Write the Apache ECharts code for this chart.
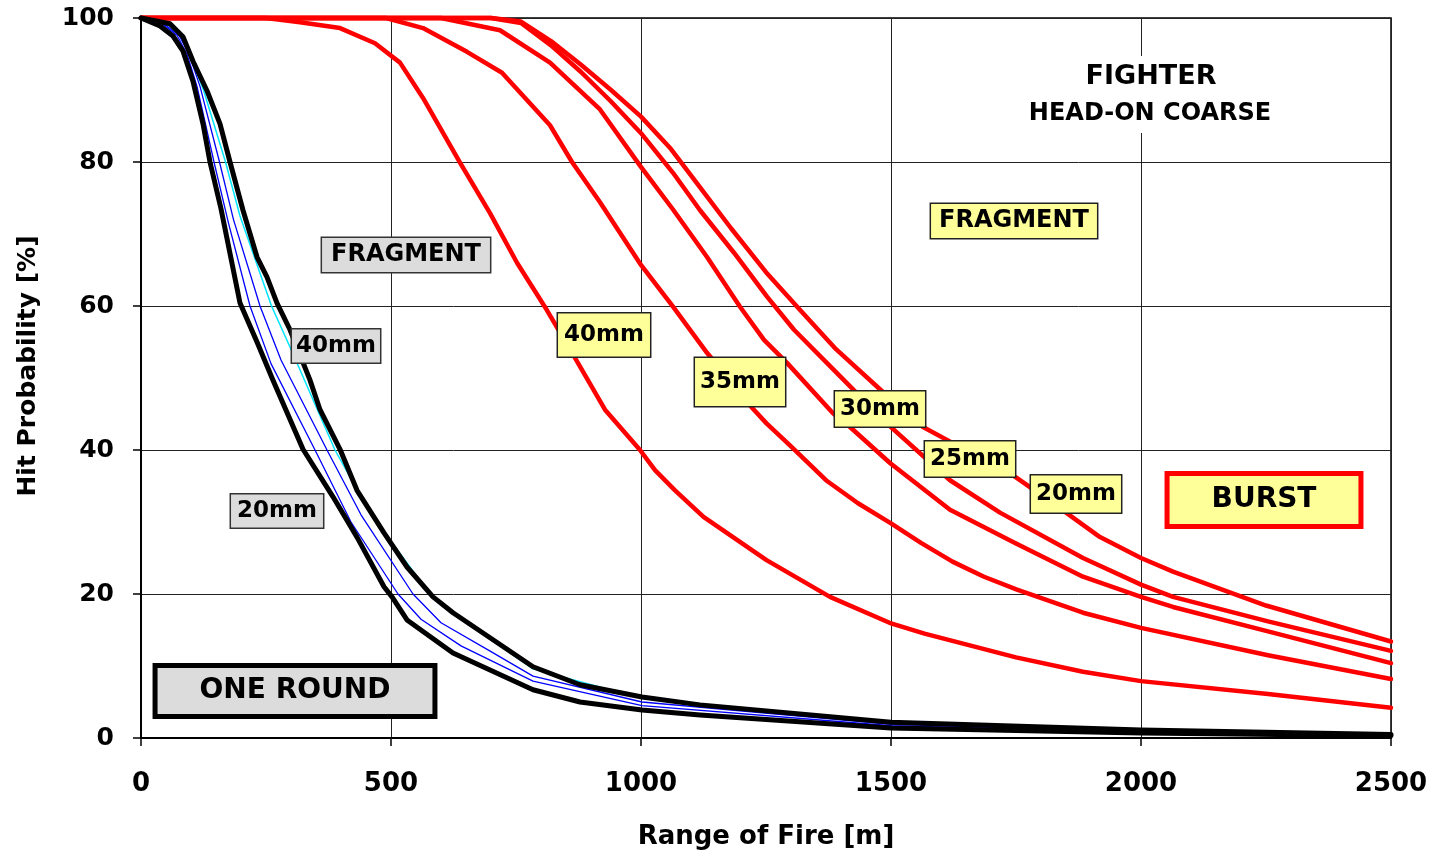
<!DOCTYPE html>
<html>
<head>
<meta charset="utf-8">
<script src="https://cdn.jsdelivr.net/npm/echarts@6/dist/echarts.min.js"></script>
<style>
    html, body { margin: 0; padding: 0; background: #fff; }
    #main { width: 1432px; height: 856px; }
</style>
</head>
<body>
<div id="main"></div>
<script>
// range of fire [m] / hit probability [%]
const xTicks = [0, 500, 1000, 1500, 2000, 2500];
const yTicks = [0, 20, 40, 60, 80, 100];

// burst (red)
const burst20 = [[0, 100], [700, 100], [760, 99.5], [820, 96.8], [880, 93.5], [940, 90], [1000, 86.3], [1060, 81.8], [1120, 76.3], [1180, 70.8], [1250, 64.7], [1320, 59.3], [1390, 54], [1480, 48.3], [1564, 43.2], [1660, 39.6], [1750, 36.2], [1830, 32.3], [1918, 27.9], [2000, 25], [2064, 23.1], [2250, 18.4], [2500, 13.4]];
const burst25 = [[0, 100], [700, 100], [760, 99.3], [820, 96.2], [880, 92.5], [940, 88.4], [1000, 84], [1064, 78.5], [1118, 73.3], [1186, 67.4], [1252, 61.3], [1306, 56.7], [1386, 51.1], [1490, 43.8], [1618, 35.8], [1718, 31.3], [1884, 25], [2000, 21.3], [2064, 19.6], [2254, 16.2], [2500, 12.1]];
const burst30 = [[0, 100], [600, 100], [718, 98.3], [818, 93.8], [918, 87.3], [998, 79.5], [1064, 73.4], [1132, 66.8], [1198, 59.9], [1246, 55.3], [1292, 52.1], [1384, 45.1], [1418, 43.2], [1498, 38.2], [1618, 31.7], [1750, 27], [1884, 22.4], [2000, 19.6], [2064, 18.2], [2254, 14.8], [2500, 10.4]];
const burst35 = [[0, 100], [490, 100], [564, 98.6], [652, 95.3], [722, 92.4], [818, 85.1], [862, 80], [918, 74.4], [998, 65.9], [1064, 59.9], [1132, 53.5], [1223, 45.8], [1251, 43.7], [1300, 40.5], [1370, 35.8], [1434, 32.6], [1500, 29.8], [1560, 27.1], [1623, 24.5], [1686, 22.4], [1752, 20.6], [1884, 17.4], [2000, 15.3], [2254, 11.5], [2500, 8.2]];
const burst40 = [[0, 100], [250, 100], [318, 99.4], [398, 98.6], [468, 96.5], [518, 93.8], [564, 88.9], [638, 79.9], [698, 72.9], [752, 66], [812, 59.4], [868, 52.8], [928, 45.6], [998, 40], [1028, 37.2], [1068, 34.4], [1125, 30.7], [1251, 24.7], [1378, 19.6], [1497, 16], [1567, 14.5], [1750, 11.2], [1884, 9.2], [2000, 7.9], [2254, 6.1], [2500, 4.2]];

// fragment, one round (black / blue)
const frag20 = [[0, 100], [38, 98.9], [64, 97.5], [84, 95.4], [104, 91.2], [124, 85.3], [138, 80], [160, 73.5], [198, 60.4], [232, 55], [264, 49.7], [324, 40.1], [384, 33.5], [432, 27.9], [486, 21], [502, 19.6], [532, 16.4], [624, 11.8], [784, 6.7], [878, 5], [1002, 3.9], [1118, 3.2], [1500, 1.4], [2000, 0.7], [2500, 0.3]];
const fragB1 = [[0, 100], [44, 99.1], [72, 97.6], [92, 95], [112, 90.5], [146, 80], [175, 71.5], [218, 60], [260, 52], [348, 40], [420, 30], [514, 20], [560, 16.5], [640, 12.8], [784, 7.9], [1002, 4.5], [1500, 1.7], [2000, 0.8], [2500, 0.4]];
const fragB2 = [[0, 100], [46, 99.2], [76, 97.6], [96, 95], [118, 90.5], [157, 80], [185, 72], [238, 60], [280, 52.5], [372, 40], [440, 31], [544, 20], [600, 16], [700, 12], [784, 8.6], [1002, 5], [1500, 1.9], [2000, 0.9], [2500, 0.4]];
const fragC = [[0, 100], [50, 99.3], [80, 97.5], [100, 94.5], [125, 90], [169, 80], [198, 72.5], [261, 60], [300, 54], [388, 40], [460, 31], [578, 20], [620, 17.5], [784, 9.6], [1002, 5.5], [1500, 2.1], [2000, 1], [2500, 0.5]];
const frag40 = [[0, 100], [58, 99.2], [84, 97.4], [104, 94], [132, 89.9], [158, 85.3], [178, 80], [204, 73.3], [232, 66.8], [252, 64], [272, 60.4], [298, 56.7], [338, 49.7], [358, 45.6], [398, 40.1], [432, 34.4], [486, 28.5], [532, 23.75], [584, 19.6], [624, 17.4], [784, 9.9], [878, 7.4], [1002, 5.7], [1118, 4.6], [1500, 2.2], [2000, 1.1], [2500, 0.5]];

const FONT = '"DejaVu Sans", sans-serif';

const chart = echarts.init(document.getElementById('main'));

function line (name, data, color, width) {
    return {
        name: name,
        type: 'line',
        data: data,
        showSymbol: false,
        symbol: 'none',
        smooth: false,
        clip: false,
        lineStyle: { color: color, width: width, join: 'round', cap: 'round' },
        emphasis: { disabled: true }
    };
}

function box (text, x, y, size, fill, border, bw, padding) {
    return {
        type: 'text',
        x: x,
        y: y,
        z: 100,
        style: {
            text: text,
            font: 'bold ' + size + 'px ' + FONT,
            fill: '#000',
            align: 'center',
            verticalAlign: 'middle',
            backgroundColor: fill,
            borderColor: border,
            borderWidth: bw,
            padding: padding
        }
    };
}

const GRAY = '#dcdcdc';
const YELLOW = '#ffff99';

const option = {
    animation: false,
    backgroundColor: '#fff',
    grid: {
        left: 141,
        right: 41,
        top: 18,
        bottom: 118,
        outerBoundsMode: 'none',
        containLabel: false,
        show: true,
        borderColor: '#000',
        borderWidth: 1.5
    },
    xAxis: {
        type: 'value',
        min: xTicks[0],
        max: xTicks[xTicks.length - 1],
        interval: xTicks[1] - xTicks[0],
        name: 'Range of Fire [m]',
        nameLocation: 'middle',
        nameGap: 86,
        nameTextStyle: { fontFamily: FONT, fontWeight: 'bold', fontSize: 26, color: '#000' },
        axisLine: { lineStyle: { color: '#000', width: 2 } },
        axisTick: { show: true, inside: false, length: 8, lineStyle: { color: '#000', width: 1.5 } },
        axisLabel: { fontFamily: FONT, fontWeight: 'bold', fontSize: 26, color: '#000', margin: 33, formatter: (v) => String(v) },
        splitLine: { show: true, lineStyle: { color: '#222', width: 1 } }
    },
    yAxis: {
        type: 'value',
        min: yTicks[0],
        max: yTicks[yTicks.length - 1],
        interval: yTicks[1] - yTicks[0],
        name: 'Hit Probability [%]',
        nameLocation: 'middle',
        nameGap: 100,
        nameRotate: 90,
        nameTextStyle: { fontFamily: FONT, fontWeight: 'bold', fontSize: 25, color: '#000', padding: [0, 0, 0, 24] },
        axisLine: { show: true, lineStyle: { color: '#000', width: 2 } },
        axisTick: { show: true, inside: false, length: 8, lineStyle: { color: '#000', width: 1.5 } },
        axisLabel: { fontFamily: FONT, fontWeight: 'bold', fontSize: 25, color: '#000', margin: 27, formatter: (v) => String(v) },
        splitLine: { show: true, lineStyle: { color: '#222', width: 1 } }
    },
    series: [
        line('Burst 40mm', burst40, '#ff0000', 4.5),
        line('Burst 35mm', burst35, '#ff0000', 4.5),
        line('Burst 30mm', burst30, '#ff0000', 4.5),
        line('Burst 25mm', burst25, '#ff0000', 4.5),
        line('Burst 20mm', burst20, '#ff0000', 4.5),
        line('Fragment 25mm', fragB1, '#0000ff', 1.3),
        line('Fragment 30mm', fragB2, '#0000ff', 1.3),
        line('Fragment 35mm', fragC, '#00e5ff', 1.5),
        line('Fragment 20mm', frag20, '#000000', 5),
        line('Fragment 40mm', frag40, '#000000', 5)
    ],
    graphic: {
        elements: [
            // title block sits on a white patch over the grid
            { type: 'rect', z: 99, shape: { x: 1020, y: 56, width: 262, height: 77 }, style: { fill: '#fff' } },
            { type: 'text', x: 1151, y: 77, z: 100, style: { text: 'FIGHTER', font: 'bold 27px ' + FONT, fill: '#000', align: 'center', verticalAlign: 'middle' } },
            { type: 'text', x: 1150, y: 114, z: 100, style: { text: 'HEAD-ON COARSE', font: 'bold 24px ' + FONT, fill: '#000', align: 'center', verticalAlign: 'middle' } },

            box('FRAGMENT', 406, 255, 24, GRAY, '#333', 1.5, [5, 9]),
            box('40mm', 336, 346, 23, GRAY, '#333', 1.5, [5, 4]),
            box('20mm', 277, 511, 23, GRAY, '#333', 1.5, [5, 6]),
            box('ONE ROUND', 295, 691, 28, GRAY, '#000', 5, [9, 42]),

            box('FRAGMENT', 1014, 221, 24, YELLOW, '#222', 1.5, [5, 8]),
            box('40mm', 604, 335, 23, YELLOW, '#222', 1.5, [7, 6, 13, 6]),
            box('35mm', 740, 382, 23, YELLOW, '#222', 1.5, [8, 5, 17, 5]),
            box('30mm', 880, 409, 23, YELLOW, '#222', 1.5, [6, 5]),
            box('25mm', 970, 459, 23, YELLOW, '#222', 1.5, [6, 5]),
            box('20mm', 1076, 494, 23, YELLOW, '#222', 1.5, [7, 5]),
            box('BURST', 1264, 500, 28, YELLOW, '#ff0000', 5, [10, 42])
        ]
    }
};

chart.setOption(option);
</script>
</body>
</html>
